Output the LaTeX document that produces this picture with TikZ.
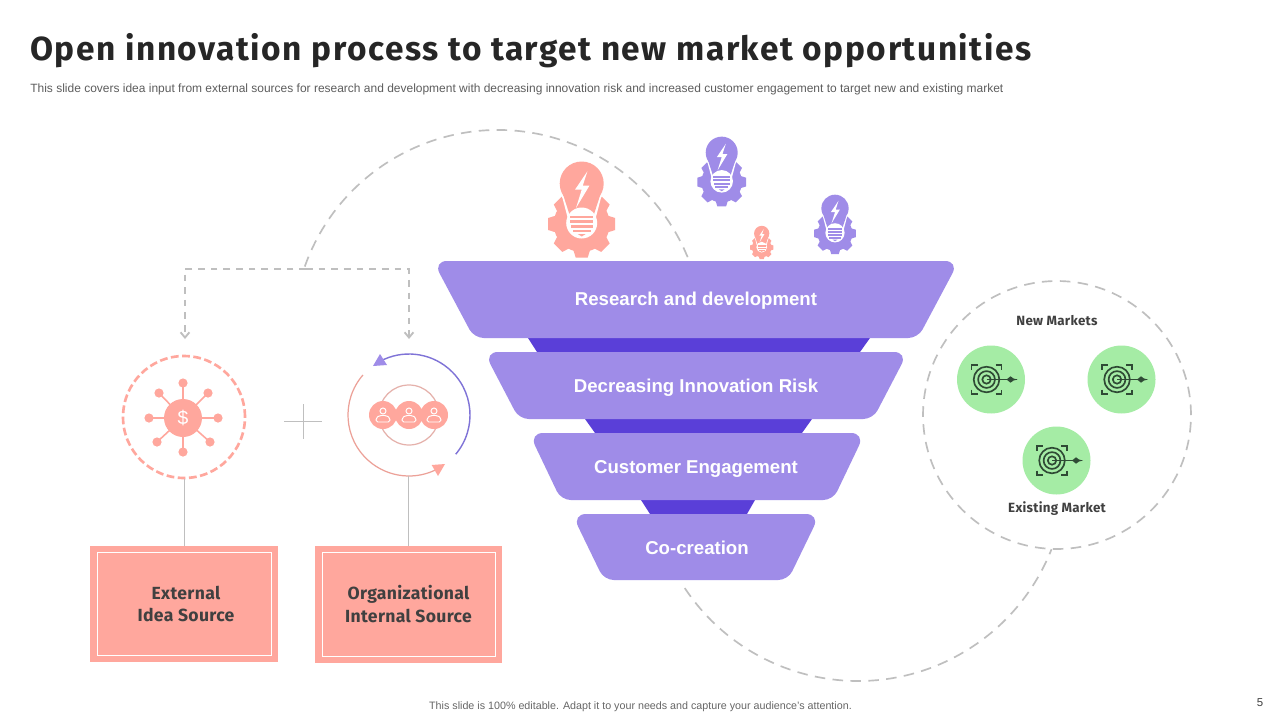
\documentclass[tikz,border=0pt]{standalone}
\usepackage{fontspec}
\setmainfont{Liberation Sans}
\newfontfamily\din[LetterSpace=2]{Fira Sans}
\newfontfamily\dintitle[LetterSpace=4.7]{Fira Sans}
\usetikzlibrary{arrows.meta}
\definecolor{salmon}{HTML}{FFA79D}
\definecolor{lilac}{HTML}{9F8CE8}
\definecolor{deeppurple}{HTML}{5A3FD8}
\definecolor{mint}{HTML}{A5ECA5}
\definecolor{darktxt}{HTML}{404040}
\definecolor{titletxt}{HTML}{262626}
\definecolor{dashgray}{HTML}{BFBFBF}
\definecolor{darkgreen}{HTML}{2F4A35}
\tikzset{
  bigdash/.style={draw=dashgray,line width=0.95pt,dash pattern=on 6pt off 4.2pt},
  smalldash/.style={draw=dashgray,line width=1.05pt,dash pattern=on 3.8pt off 3.4pt},
  stemline/.style={draw=dashgray,line width=0.55pt},
  funnelband/.style={fill=lilac},
  tcorner/.style={rounded corners=8pt},
  bcorner/.style={rounded corners=5.5pt},
  funnelneck/.style={fill=deeppurple},
  funneltext/.style={text=white,font=\bfseries\fontsize{10.6}{13}\selectfont,inner sep=0pt},
  salmonbox/.style={fill=salmon,inner sep=0pt},
  boxtext/.style={text=darktxt,align=center,inner sep=0pt,font=\din\bfseries\fontsize{10}{12.6}\selectfont},
  marketlabel/.style={text=darktxt,inner sep=0pt,font=\din\bfseries\fontsize{7.6}{9}\selectfont},
  pics/bulb/.style={code={
    \foreach \a in {0,45,...,315}{
      \fill[#1,shift={(0,62)},rotate=\a] (24,-9) -- (33.5,-6) -- (33.5,6) -- (24,9) -- cycle;
    }
    \fill[#1] (0,62) circle[radius=28];
    \fill[white] (0,21.5) circle[radius=24];
    \fill[white] (-20,33) -- (-14,56) -- (14,56) -- (20,33) -- cycle;
    \fill[#1] (0,21.5) circle[radius=22];
    \fill[#1] (-18.5,33) -- (-11.7,54) -- (11.7,54) -- (18.5,33) -- cycle;
    \fill[white] (0,61) circle[radius=15.5];
    \fill[white] (5.7,9.3) -- (-6.7,27.7) -- (0,27.7) -- (-5.7,46) -- (7.7,23.7) -- (1,23.7) -- cycle;
    \fill[#1] (-11.5,53.5) rectangle (11.5,56);
    \fill[#1] (-11.5,58.3) rectangle (11.5,60.8);
    \fill[#1] (-11,63.2) rectangle (11,65.7);
    \fill[#1] (-9,68) rectangle (9,70.3);
    \fill[#1] (-4,72) -- (4,72) -- (0,74.5) -- cycle;
  }},
  pics/dart/.style={code={
    \draw[darkgreen,line width=0.95pt] (0,0) circle[radius=12.8] (0,0) circle[radius=8.4] (0,0) circle[radius=4.2];
    \draw[darkgreen,line width=0.8pt] (0,0) -- (30,0);
    \fill[darkgreen] (20,0) -- (24,-3.2) -- (27,-1) -- (31,0) -- (27,1) -- (24,3.2) -- cycle;
    \draw[darkgreen,line width=1.1pt] (-15,-10) -- (-15,-14.5) -- (-9,-14.5);
    \draw[darkgreen,line width=1.1pt] (9,-14.5) -- (15,-14.5) -- (15,-10);
    \draw[darkgreen,line width=1.1pt] (-15,10) -- (-15,14.5) -- (-9,14.5);
    \draw[darkgreen,line width=1.1pt] (9,14.5) -- (15,14.5) -- (15,10);
  }},
  pics/person/.style={code={
    \draw[white,line width=0.55pt] (0,-4) circle[radius=3];
    \draw[white,line width=0.55pt,rounded corners=1pt] (-7,7) -- (-7,3) -- (-3.5,0.5) -- (3.5,0.5) -- (7,3) -- (7,7) -- cycle;
  }}
}
\begin{document}
\begin{tikzpicture}[x=0.02cm,y=-0.02cm]
\useasboundingbox[fill=white] (0,0) rectangle (1280,720);
% header
\node[anchor=west,inner sep=0pt,text=titletxt,font=\dintitle\bfseries\fontsize{19}{24}\selectfont] (title) at (30,51) {Open innovation process to target new market opportunities};
\node[anchor=west,inner sep=0pt,text=darktxt!85,font=\fontsize{6.82}{8}\selectfont] (subtitle) at (30,89.5) {This slide covers idea input from external sources for research and development with decreasing innovation risk and increased customer engagement to target new and existing market};
% big dashed arcs
\coordinate (upperc) at (498,335);
\coordinate (lowerc) at (858,473);
\coordinate (junction) at (306,269);
\coordinate (inL) at (185,339);
\coordinate (inR) at (409,339);
\draw[bigdash] ([shift={(199.5:205)}]upperc) arc[start angle=199.5,end angle=338.7,radius=205];
\draw[bigdash] ([shift={(146.4:208)}]lowerc) arc[start angle=146.4,end angle=21.5,radius=208];
\draw[smalldash,-{Straight Barb[length=3pt,width=5pt,color=dashgray]}] (junction) -| (inL);
\draw[smalldash,-{Straight Barb[length=3pt,width=5pt,color=dashgray]}] (junction) -| (inR);
% left circle
\node[circle,minimum size=2.44cm,inner sep=0pt,draw=salmon,line width=1.5pt,dash pattern=on 4.4pt off 2pt,fill=white] (extcircle) at (184,417) {};
\foreach \x/\y in {183/383,208/393,218/418,210/442,183/452,157/442,149/418,159/393}{
  \draw[salmon,line width=0.9pt] (183,418) -- (\x,\y);
  \fill[salmon] (\x,\y) circle[radius=4.6];
}
\node[circle,fill=salmon,minimum size=0.76cm,inner sep=0pt,text=white,font=\fontsize{11}{11}\selectfont] (hub) at (183,418) {\$};
% plus
\coordinate (plusL) at (284,421); \coordinate (plusR) at (322,421);
\coordinate (plusT) at (303.5,404); \coordinate (plusB) at (303.5,439);
\draw[stemline] (plusL) -- (plusR);
\draw[stemline] (plusT) -- (plusB);
% right circle
\coordinate (intc) at (409,415);
\node[circle,minimum size=2.44cm,inner sep=0pt] (intcircle) at (intc) {};
\draw[salmon!75!gray!80,line width=0.7pt] (intc) circle[radius=30];
\draw[salmon!85!gray,line width=0.7pt] ([shift={(221:61)}]intc) arc[start angle=221,end angle=61,radius=61];
\draw[lilac!80!blue!80!gray,line width=0.8pt] ([shift={(40:61)}]intc) arc[start angle=40,end angle=-118,radius=61];
\fill[lilac] (380,354) -- (373,366) -- (387,365) -- cycle;
\fill[salmon] (431.7,465) -- (445,464) -- (438,476) -- cycle;
\foreach \n/\x in {a/383,c/434,b/409}{
  \node[circle,fill=salmon,minimum size=0.56cm,inner sep=0pt] (person\n) at (\x,415) {};
  \pic at (\x,415) {person};
}
% source boxes
\node[salmonbox,minimum width=3.76cm,minimum height=2.32cm] (extbox) at (184,604) {};
\node[salmonbox,minimum width=3.74cm,minimum height=2.34cm] (intbox) at (408.5,604.5) {};
\node[boxtext] (exttext) at (186,604) {External\\Idea Source};
\node[boxtext] (inttext) at (408.5,604) {Organizational\\Internal Source};
\draw[white,line width=0.5pt] (97,552.5) rectangle (271,655.5);
\draw[white,line width=0.5pt] (322,552.5) rectangle (495,656.5);
\draw[stemline] (extcircle.south) -- (extbox.north);
\draw[stemline] (408.5,476) -- (intbox.north);
% funnel
\fill[funnelneck] (528,338) -- (870,338) -- (860,352) -- (537,352) -- cycle;
\fill[funnelneck] (585,419) -- (812,419) -- (802,433) -- (595,433) -- cycle;
\fill[funnelneck] (641,500) -- (755,500) -- (747,514) -- (650,514) -- cycle;
\fill[funnelband] (696,261) [tcorner] -- (959,261) [bcorner] -- (918,338) -- (474,338) [tcorner] -- (433,261) -- cycle;
\fill[funnelband] (696,352) [tcorner] -- (908,352) [bcorner] -- (873,419) -- (519,419) [tcorner] -- (484,352) -- cycle;
\fill[funnelband] (696,433) [tcorner] -- (865,433) [bcorner] -- (833,500) -- (561,500) [tcorner] -- (529,433) -- cycle;
\fill[funnelband] (696,514) [tcorner] -- (820,514) [bcorner] -- (788,580) -- (604,580) [tcorner] -- (572,514) -- cycle;
\node[funneltext] (rd) at (696,300.5) {Research and development};
\node[funneltext] (risk) at (696,387.5) {Decreasing Innovation Risk};
\node[funneltext] (engage) at (696,468.5) {Customer Engagement};
\node[funneltext] (cocreate) at (697,548) {Co-creation};
% bulbs
\pic[scale=1] at (581.7,162) {bulb=salmon};
\pic[scale=0.727] at (721.7,137) {bulb=lilac};
\pic[scale=0.62] at (835,195) {bulb=lilac};
\pic[scale=0.347] at (761.7,226) {bulb=salmon};
% markets
\node[circle,minimum size=5.36cm,inner sep=0pt,draw=dashgray,line width=0.95pt,dash pattern=on 6pt off 4.2pt] (markets) at (1057,415) {};
\foreach \n/\x/\y in {m1/991/379.5,m2/1121.5/379.5,m3/1056.5/460.5}{
  \node[circle,fill=mint,minimum size=1.36cm,inner sep=0pt] (\n) at (\x,\y) {};
  \pic at (\x-4.5,\y) {dart};
}
\node[marketlabel] (newm) at (1057,321) {New Markets};
\node[marketlabel] (exm) at (1057,508.5) {Existing Market};
% footer
\node[inner sep=0pt,text=darktxt!80,font=\fontsize{6.1}{7}\selectfont] (footer) at (640.5,707) {This slide is 100\% editable. Adapt it to your needs and capture your audience's attention.};
\node[inner sep=0pt,text=darktxt,font=\fontsize{6.5}{8}\selectfont] (pageno) at (1260,703) {5};
\end{tikzpicture}
\end{document}
